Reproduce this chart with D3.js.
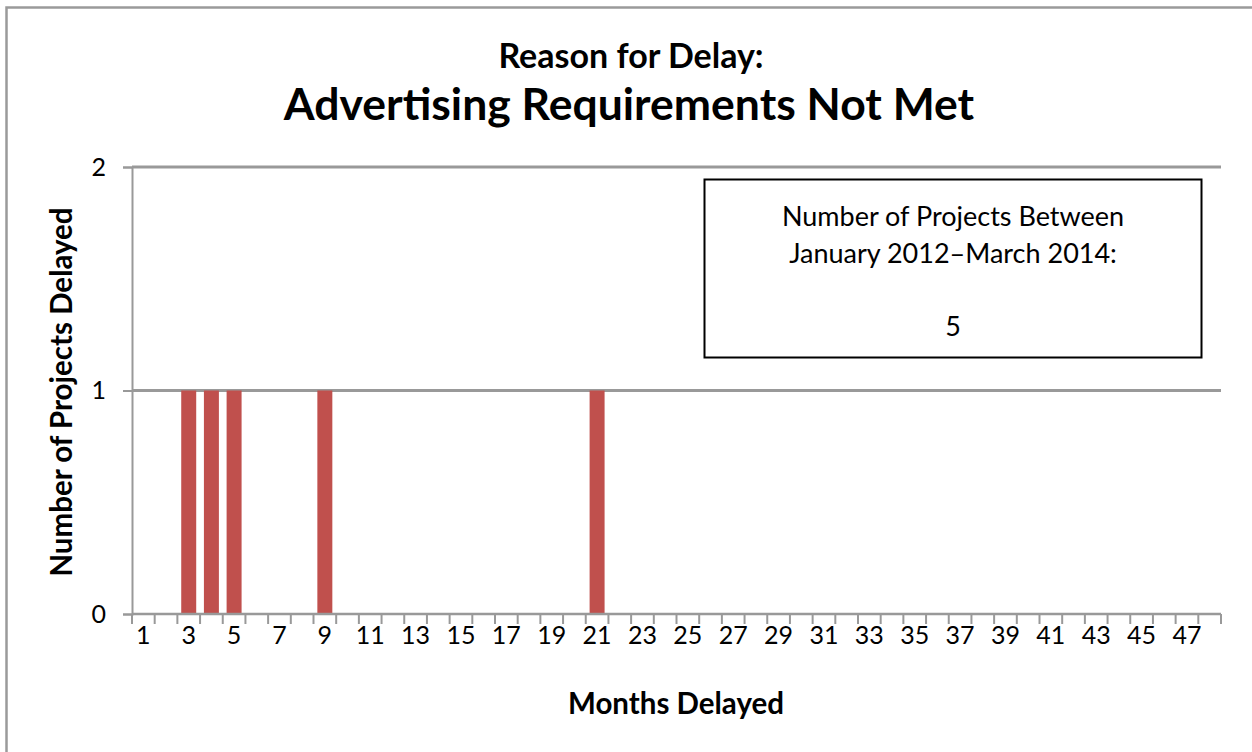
<!DOCTYPE html>
<html>
<head>
<meta charset="utf-8">
<script src="https://cdn.jsdelivr.net/npm/d3@7"></script>
<style>
  body { margin: 0; background: #fff; }
  text { font-family: Lato, "Open Sans", sans-serif; fill: #000; }
</style>
</head>
<body>
<div id="chart"></div>
<script>
// Months delayed 1..48, count of projects per month
var months = d3.range(1, 49);
var delayedMonths = [3, 4, 5, 9, 21];
var delayedCounts = [1, 1, 1, 1, 1];
var yTicks = [0, 1, 2];
var titleLines = ["Reason for Delay:", "Advertising Requirements Not Met"];
var noteLines = ["Number of Projects Between", "January 2012\u2013March 2014:", "", "5"];

var W = 1252, H = 752;
var pLeft = 132, pRight = 1221, pTop = 167, pBottom = 614;

var svg = d3.select("#chart").append("svg")
  .attr("width", W).attr("height", H);

// outer chart border (right/bottom run off the picture)
svg.append("rect")
  .attr("x", 6.5).attr("y", 7.5)
  .attr("width", W).attr("height", H)
  .attr("fill", "none").attr("stroke", "#9a9a9a").attr("stroke-width", 2.5);

var counts = months.map(function(m) {
  var i = delayedMonths.indexOf(m);
  return i < 0 ? 0 : delayedCounts[i];
});

var x = d3.scaleBand().domain(months).range([pLeft, pRight]).paddingInner(0.34).paddingOuter(0.17);
var xEdge = d3.scaleLinear().domain([0, months.length]).range([pLeft, pRight]);
var y = d3.scaleLinear().domain([0, 2]).range([pBottom, pTop]);

// gridlines
svg.append("g").selectAll("line")
  .data(yTicks.slice(1))
  .enter().append("line")
  .attr("x1", pLeft).attr("x2", pRight)
  .attr("y1", function(d) { return y(d); })
  .attr("y2", function(d) { return y(d); })
  .attr("stroke", "#999").attr("stroke-width", 3);

// bars
svg.append("g").selectAll("rect")
  .data(months.filter(function(m, i) { return counts[i] > 0; }))
  .enter().append("rect")
  .attr("x", function(m) { return x(m); })
  .attr("width", x.bandwidth())
  .attr("y", function(m) { return y(counts[m - 1]); })
  .attr("height", function(m) { return pBottom - y(counts[m - 1]); })
  .attr("fill", "#c0504d");

// y axis
var yAxis = svg.append("g")
  .attr("transform", "translate(" + pLeft + ",0)")
  .call(d3.axisLeft(y).tickValues(yTicks).tickSize(9).tickPadding(17).tickFormat(d3.format("d")));
yAxis.select(".domain").attr("stroke", "#999").attr("stroke-width", 2);
yAxis.selectAll(".tick line").attr("stroke", "#999").attr("stroke-width", 2);
yAxis.selectAll("text").attr("font-size", 25).attr("font-family", "Lato, sans-serif").attr("fill", "#000");

// x axis: ticks at category edges, labels on every other category
var xAxis = svg.append("g")
  .attr("transform", "translate(0," + pBottom + ")");
xAxis.append("line")
  .attr("x1", pLeft).attr("x2", pRight).attr("y1", 0).attr("y2", 0)
  .attr("stroke", "#999").attr("stroke-width", 2.5);
xAxis.selectAll("line.tk")
  .data(d3.range(0, months.length + 1))
  .enter().append("line").attr("class", "tk")
  .attr("x1", function(d) { return xEdge(d); })
  .attr("x2", function(d) { return xEdge(d); })
  .attr("y1", 0).attr("y2", 10)
  .attr("stroke", "#999").attr("stroke-width", 2);
xAxis.selectAll("text")
  .data(months.filter(function(m) { return m % 2 === 1; }))
  .enter().append("text")
  .attr("x", function(m) { return x(m) + x.bandwidth() / 2; })
  .attr("y", 30)
  .attr("text-anchor", "middle")
  .attr("font-size", 25)
  .text(function(m) { return m; });

// titles
svg.append("text").attr("x", 631).attr("y", 68).attr("text-anchor", "middle")
  .attr("font-size", 34).attr("font-weight", "bold").text(titleLines[0]);
svg.append("text").attr("x", 629).attr("y", 120).attr("text-anchor", "middle")
  .attr("font-size", 44.5).attr("font-weight", "bold").text(titleLines[1]);

// axis titles
svg.append("text").attr("x", 676).attr("y", 714).attr("text-anchor", "middle")
  .attr("font-size", 29.5).attr("font-weight", "bold").text("Months Delayed");
svg.append("text")
  .attr("transform", "translate(72," + 392 + ") rotate(-90)")
  .attr("text-anchor", "middle")
  .attr("font-size", 29.5).attr("font-weight", "bold").text("Number of Projects Delayed");

// note box
var box = svg.append("g");
box.append("rect")
  .attr("x", 704.5).attr("y", 179.5).attr("width", 497).attr("height", 178)
  .attr("fill", "#fff").attr("stroke", "#000").attr("stroke-width", 2);
box.selectAll("text")
  .data(noteLines)
  .enter().append("text")
  .attr("x", 953)
  .attr("y", function(d, i) { return 226 + i * 36.7; })
  .attr("text-anchor", "middle")
  .attr("font-size", 27)
  .text(function(d) { return d; });
</script>
</body>
</html>
